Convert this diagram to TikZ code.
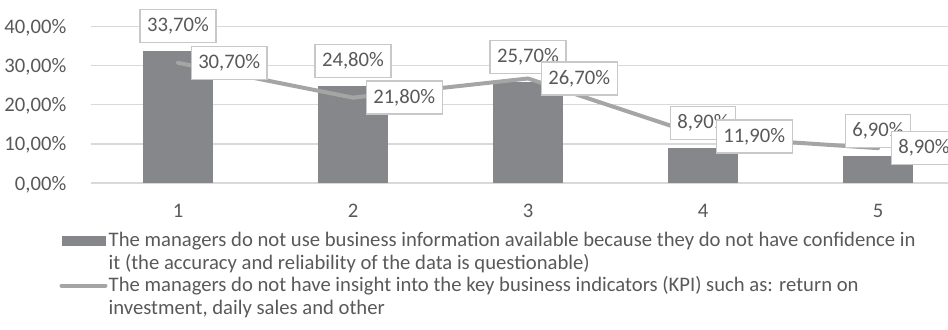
\documentclass[tikz,border=0pt]{standalone}
\usepackage{fontspec}
\setmainfont{Carlito}
\usetikzlibrary{positioning}
\definecolor{txtgray}{RGB}{89,89,89}
\definecolor{gridgray}{RGB}{217,217,217}
\definecolor{bargray}{RGB}{134,135,139}
\definecolor{linegray}{RGB}{165,165,165}
\definecolor{boxgray}{RGB}{200,200,200}

\begin{document}
\begin{tikzpicture}[
    x=0.75pt, y=-0.75pt,
    every node/.style={text=txtgray, font=\fontsize{15.5}{17.5}\selectfont},
    ]
    \tikzstyle{valbox}=[draw=boxgray, line width=1pt, fill=white, inner xsep=5.3pt, inner ysep=0pt, minimum height=24.75pt]
    \useasboundingbox (0,0) rectangle (948,329);
    \begin{scope}
    \clip (0,0) rectangle (948,329);
    % grid
    \foreach \v in {0,10,20,30,40}
        \draw[gridgray, line width=1pt] (90.5,{183-3.915*\v}) -- (960,{183-3.915*\v});
    \node[anchor=base east] (y0) at (71,190) {0,00\%};
    \node[anchor=base east] (y10) at (71,{190-39.15}) {10,00\%};
    \node[anchor=base east] (y20) at (71,{190-78.3}) {20,00\%};
    \node[anchor=base east] (y30) at (71,{190-117.45}) {30,00\%};
    \node[anchor=base east] (y40) at (71,{190-156.6}) {40,00\%};
    % bars
    \foreach \x/\v [count=\i] in {178/33.7,353/24.8,528/25.7,703/8.9,878/6.9}{
        \fill[bargray] ({\x-35},183) rectangle ({\x+35},{183-3.915*\v});
        \coordinate (c\i) at (\x,{183-3.915*\v});
    }
    % line
    \foreach \x/\v [count=\i] in {178/30.7,353/21.8,528/26.7,703/11.9,878/8.9}
        \coordinate (p\i) at (\x,{183-3.915*\v});
    \draw[linegray, line width=3pt, line join=round, line cap=round] (p1) -- (p2) -- (p3) -- (p4) -- (p5);
    % labels
    \node[valbox, above=6pt of c1] (b1) {33,70\%};
    \node[valbox, above=6pt of c2] (b2) {24,80\%};
    \node[valbox, above=6pt of c3] (b3) {25,70\%};
    \node[valbox, above=6pt of c4] (b4) {8,90\%};
    \node[valbox, above=6pt of c5] (b5) {6,90\%};
    \node[valbox, right=9.4pt of p1] (l1) {30,70\%};
    \node[valbox, right=9.4pt of p2] (l2) {21,80\%};
    \node[valbox, right=9.4pt of p3] (l3) {26,70\%};
    \node[valbox, right=9.4pt of p4] (l4) {11,90\%};
    \node[valbox, right=9.4pt of p5] (l5) {8,90\%};
    \end{scope}
    % categories
    \foreach \x [count=\i] in {178,353,528,703,878}
        \node (x\i) at (\x,211) {\i};
    % legend
    \fill[bargray] (62,236) rectangle (106,245.5);
    \node[anchor=base west] (leg1a) at (104,246.5) {The managers do not use business information available because they do not have confidence in};
    \node[anchor=base west] (leg1b) at (104,269) {it (the accuracy and reliability of the data is questionable)};
    \draw[linegray, line width=3pt, line cap=round] (61.5,285.5) -- (105.5,285.5);
    \node[anchor=base west] (leg2a) at (104,291.5) {The managers do not have insight into the key business indicators (KPI) such as: return on};
    \node[anchor=base west] (leg2b) at (104,314) {investment, daily sales and other};
\end{tikzpicture}
\end{document}
